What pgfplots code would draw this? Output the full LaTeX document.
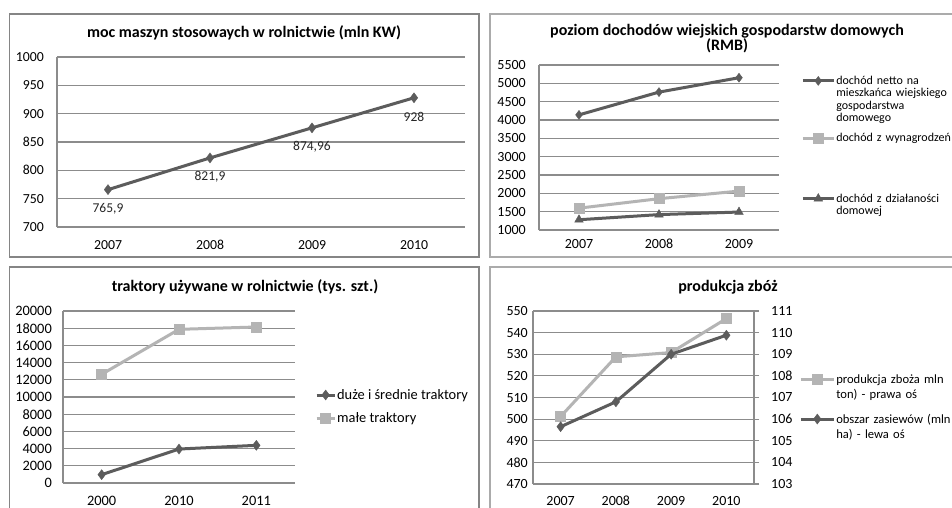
\documentclass[border=0pt]{standalone}
\usepackage{pgfplots}
\pgfplotsset{compat=1.18}
\usepackage{fontspec}
\setmainfont{Carlito}

\definecolor{dk}{HTML}{5C5C5C}
\definecolor{lt}{HTML}{B4B4B4}
\definecolor{gridc}{HTML}{8C8C8C}
\definecolor{frameA}{HTML}{858585}
\definecolor{frameB}{HTML}{ABABAB}

\pgfplotsset{
  excel/.style={
    scale only axis, anchor=south west,
    axis x line*=bottom, axis y line*=left,
    axis line style={gridc, line width=1.2pt, -},
    ymajorgrids, grid style={gridc, line width=1.2pt},
    major tick length=0pt,
    xtick=data,
    scaled ticks=false,
    /pgf/number format/assume math mode=true,
    /pgf/number format/1000 sep={},
    xticklabel style={anchor=center, inner sep=0pt},
    yticklabel style={anchor=east, inner sep=0pt},
    legend cell align=left,
    legend style={draw=none, fill=none, anchor=north west, inner sep=0pt,
      nodes={inner sep=1pt}},
    clip=false,
  },
  darkline/.style={dk, line width=3pt, mark options={solid, fill=dk, draw=dk, line width=0.4pt}},
  lightline/.style={lt, line width=3pt, mark=square*, mark size=5pt,
    mark options={solid, fill=lt, draw=lt, line width=0.4pt}},
}
% wpis legendy wyrownany do pierwszego wiersza tekstu
\tikzset{multi/.style={text width=130pt, align=left, anchor=north west, yshift=6pt, text depth=#1}}

\begin{document}
\begin{tikzpicture}
\path[use as bounding box, fill=white] (0pt,0pt) rectangle (952pt,-508pt);

% ramki wykresow
\draw[frameA, line width=1.2pt] (9.5pt,-14pt) rectangle (479pt,-257pt);
\draw[frameB, line width=1.5pt] (490pt,-14pt) rectangle (965pt,-257pt);
\draw[frameA, line width=1.2pt] (9.5pt,-267pt) rectangle (479pt,-520pt);
\draw[frameB, line width=1.5pt] (490pt,-267pt) rectangle (965pt,-520pt);

% tytuly
\node[font=\bfseries\fontsize{16}{18}\selectfont] at (244pt,-33pt)
  {moc maszyn stosowaych w rolnictwie (mln KW)};
\node[font=\bfseries\fontsize{16}{13.5}\selectfont, align=center] at (727pt,-38.5pt)
  {poziom dochodów wiejskich gospodarstw domowych\\(RMB)};
\node[font=\bfseries\fontsize{16}{18}\selectfont] at (245pt,-287pt)
  {traktory używane w rolnictwie (tys. szt.)};
\node[font=\bfseries\fontsize{16}{18}\selectfont] at (728pt,-287pt)
  {produkcja zbóż};

% 1: moc maszyn
\begin{axis}[excel, at={(57pt,-227pt)}, width=408pt, height=170pt,
  xmin=-0.5, xmax=3.5, ymin=700, ymax=1000, ytick distance=50,
  xticklabels={2007,2008,2009,2010},
  tick label style={font=\fontsize{13.8}{16}\selectfont},
  xticklabel style={yshift=-18pt},
  yticklabel style={xshift=-13pt},
  nodes near coords, point meta=explicit symbolic,
  every node near coord/.append style={anchor=center, yshift=-19pt,
    font=\fontsize{13.5}{16}\selectfont, text=black!85}]
\addplot[darkline, mark=diamond*, mark size=5pt] coordinates {
  (0,765.9) [765,9] (1,821.9) [821,9] (2,874.96) [874,96] (3,928) [928]};
\end{axis}

% 2: dochody
\begin{axis}[excel, at={(539pt,-230pt)}, width=240pt, height=165pt,
  xmin=-0.5, xmax=2.5, ymin=1000, ymax=5500, ytick distance=500,
  xticklabels={2007,2008,2009},
  tick label style={font=\fontsize{14}{16}\selectfont},
  xticklabel style={yshift=-14pt},
  yticklabel style={xshift=-13pt},
  legend image code/.code={\draw[mark repeat=2, mark phase=2, #1]
    plot coordinates {(0pt,0pt) (15.5pt,0pt) (31pt,0pt)};},
  legend style={at={(1.092,0.94)}, font=\fontsize{12}{12.5}\selectfont,
    row sep=0pt}]
\addplot[darkline, mark=diamond*, mark size=4.5pt] coordinates {
  (0,4140) (1,4761) (2,5153)};
\addlegendentry[multi=47pt]{dochód netto na\\mieszkańca wiejskiego\\gospodarstwa\\domowego}
\addplot[lightline] coordinates {
  (0,1596) (1,1854) (2,2061)};
\addlegendentry[multi=50pt]{dochód z wynagrodzeń}
\addplot[darkline, mark=triangle*, mark size=5pt] coordinates {
  (0,1280) (1,1420) (2,1490)};
\addlegendentry[multi=16pt]{dochód z działaności\\domowej}
\end{axis}

% 3: traktory
\begin{axis}[excel, at={(63pt,-483pt)}, width=232pt, height=172pt,
  xmin=-0.5, xmax=2.5, ymin=0, ymax=20000, ytick distance=2000,
  xticklabels={2000,2010,2011},
  tick label style={font=\fontsize{14.4}{16}\selectfont},
  xticklabel style={yshift=-18pt},
  yticklabel style={xshift=-11pt},
  legend image code/.code={\draw[mark repeat=2, mark phase=2, #1]
    plot coordinates {(0pt,0pt) (9pt,0pt) (18pt,0pt)};},
  legend style={at={(1.086,0.552)}, font=\fontsize{14.4}{16}\selectfont,
    row sep=10pt}]
\addplot[darkline, mark=diamond*, mark size=5pt] coordinates {
  (0,970) (1,3950) (2,4380)};
\addlegendentry{duże i średnie traktory}
\addplot[lightline] coordinates {
  (0,12640) (1,17870) (2,18140)};
\addlegendentry{małe traktory}
\end{axis}

% 4: produkcja zboz, dwie osie
\begin{axis}[excel, at={(533pt,-484pt)}, width=221pt, height=173pt,
  xmin=-0.5, xmax=3.5, ymin=470, ymax=550, ytick distance=10,
  xticklabels={2007,2008,2009,2010},
  tick label style={font=\fontsize{14}{16}\selectfont},
  xticklabel style={yshift=-17pt},
  yticklabel style={xshift=-5pt}]
\addplot[lightline] coordinates {
  (0,501.2) (1,528.8) (2,530.8) (3,546.5)};
\end{axis}
\begin{axis}[excel, at={(533pt,-484pt)}, width=221pt, height=173pt,
  xmin=-0.5, xmax=3.5, ymin=103, ymax=111, ytick distance=1,
  axis y line*=right, axis x line=none, ymajorgrids=false,
  tick align=outside, major tick length=5pt,
  ytick style={gridc, line width=1.2pt},
  tick label style={font=\fontsize{14}{16}\selectfont},
  yticklabel style={anchor=west, xshift=12pt},
  legend image code/.code={\draw[mark repeat=2, mark phase=2, #1]
    plot coordinates {(0pt,0pt) (16.5pt,0pt) (33pt,0pt)};},
  legend style={at={(1.204,0.64)}, font=\fontsize{12.6}{15}\selectfont,
    row sep=0pt}]
\addlegendimage{lightline}
\addlegendentry[multi=29pt]{produkcja zboża mln\\ton) - prawa oś}
\addplot[darkline, mark=diamond*, mark size=5pt] coordinates {
  (0,105.65) (1,106.8) (2,109.0) (3,109.88)};
\addlegendentry[multi=20pt]{obszar zasiewów (mln\\ha) - lewa oś}
\end{axis}
\end{tikzpicture}
\end{document}
